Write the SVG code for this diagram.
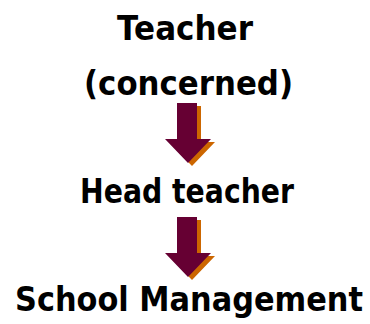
<svg xmlns="http://www.w3.org/2000/svg" width="370" height="324" viewBox="0 0 370 324">
<style>
text{font-family:"DejaVu Sans","Liberation Sans",sans-serif;font-weight:bold;font-size:34px;fill:#000;}
.cond{font-family:"DejaVu Sans Condensed","DejaVu Sans","Liberation Sans",sans-serif;}
.sh{fill:#CC6600;}
.ar{fill:#660033;}
</style>
<defs>
<polygon id="arrow" points="177,0 197,0 197,36 211,36 188,60 165,36 177,36"/>
</defs>
<rect width="370" height="324" fill="#fff"/>
<g id="teacher">
<text x="117" y="40" textLength="136" lengthAdjust="spacingAndGlyphs">Teacher</text>
<text x="84" y="95" textLength="209" lengthAdjust="spacingAndGlyphs">(concerned)</text>
</g>
<g id="head-teacher">
<text x="80" y="203" textLength="214" lengthAdjust="spacingAndGlyphs">Head teacher</text>
</g>
<g id="school-management">
<text class="cond" x="15" y="311" font-size="33" textLength="348" lengthAdjust="spacingAndGlyphs">School Management</text>
</g>
<g id="connectors">
<use href="#arrow" class="sh" x="4" y="106"/>
<use href="#arrow" class="ar" x="0" y="103"/>
<use href="#arrow" class="sh" x="4" y="220"/>
<use href="#arrow" class="ar" x="0" y="217"/>
</g>
</svg>
